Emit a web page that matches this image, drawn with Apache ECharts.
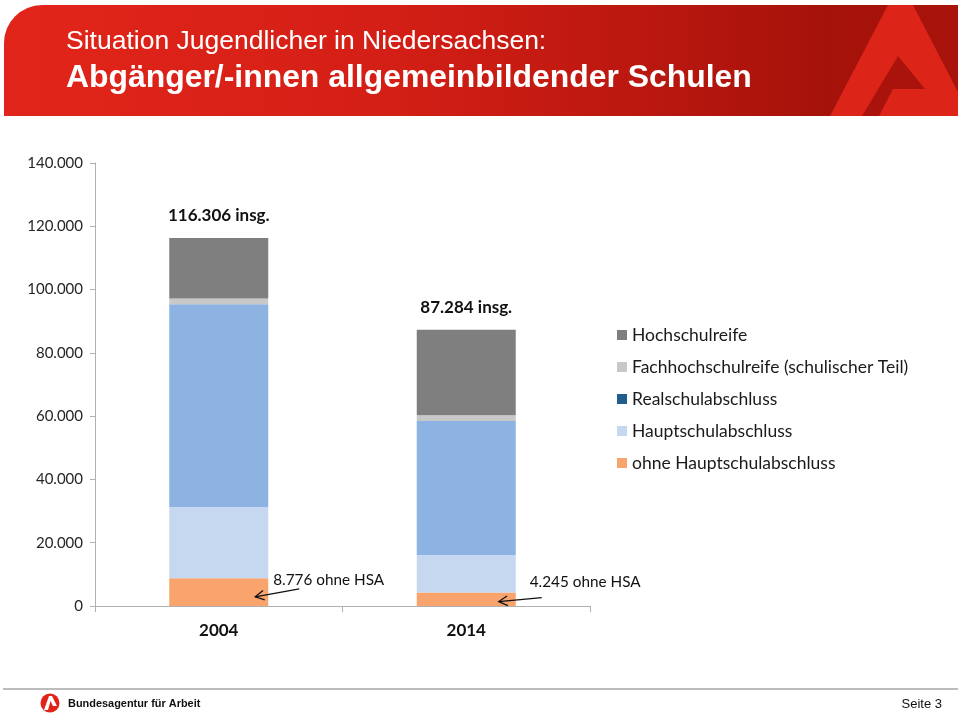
<!DOCTYPE html>
<html>
<head>
<meta charset="utf-8">
<script src="https://cdn.jsdelivr.net/npm/echarts/dist/echarts.min.js"></script>
<style>
html,body{margin:0;padding:0;background:#fff;}
#chart{width:960px;height:719px;}
</style>
</head>
<body>
<div id="chart"></div>
<script>
// ---- data ----
const categories = ['2004', '2014'];
const ohneHSA = [8776, 4245];
const hauptschul = [22500, 11850];
const realschul = [64100, 42400];
const fachhochschulreife = [1800, 1800];
const hochschulreife = [19130, 26989];
const totals = [116306, 87284];
const yTicks = [0, 20000, 40000, 60000, 80000, 100000, 120000, 140000];
const yTickLabels = ['0', '20.000', '40.000', '60.000', '80.000', '100.000', '120.000', '140.000'];
const seriesNames = ['ohne Hauptschulabschluss', 'Hauptschulabschluss', 'Realschulabschluss', 'Fachhochschulreife (schulischer Teil)', 'Hochschulreife'];
const legendOrder = ['Hochschulreife', 'Fachhochschulreife (schulischer Teil)', 'Realschulabschluss', 'Hauptschulabschluss', 'ohne Hauptschulabschluss'];
const annotationTexts = ['8.776 ohne HSA', '4.245 ohne HSA'];
const titleLine1 = 'Situation Jugendlicher in Niedersachsen:';
const titleLine2 = 'Abgänger/-innen allgemeinbildender Schulen';
const footerOrg = 'Bundesagentur für Arbeit';
const footerPage = 'Seite 3';

// ---- styles ----
const FONT = 'Lato, "Open Sans", sans-serif';
const colors = ['#f8a46c', '#c6d8f0', '#8db3e2', '#c8c8c8', '#7f7f7f'];
const legendColors = {'Realschulabschluss': '#215e8c'};

function fmt(n) { return String(n).replace(/\B(?=(\d{3})+(?!\d))/g, '.'); }

const chart = echarts.init(document.getElementById('chart'), null, {renderer: 'canvas'});
const seriesData = [ohneHSA, hauptschul, realschul, fachhochschulreife, hochschulreife];
const BAR_W = 99;

const series = seriesNames.map((name, i) => ({
  name: name,
  type: 'bar',
  stack: 'total',
  barWidth: BAR_W,
  data: seriesData[i],
  itemStyle: {color: colors[i]},
  emphasis: {disabled: true},
  label: i === seriesNames.length - 1 ? {
    show: true, position: 'top', distance: 14,
    formatter: p => fmt(totals[p.dataIndex]) + ' insg.',
    fontFamily: FONT, fontWeight: 'bold', fontSize: 17, color: '#111'
  } : {show: false}
}));

chart.setOption({
  animation: false,
  textStyle: {fontFamily: FONT},
  grid: {left: 95, right: 370, top: 163, bottom: 113, containLabel: false},
  xAxis: {
    type: 'category', data: categories,
    axisLine: {lineStyle: {color: '#b0b0b0', width: 1}},
    axisTick: {show: true, length: 6, lineStyle: {color: '#b0b0b0'}},
    axisLabel: {fontFamily: FONT, fontWeight: 'bold', fontSize: 17, color: '#111', margin: 16}
  },
  yAxis: {
    type: 'value', min: 0, max: 140000, interval: 20000,
    axisLine: {show: true, lineStyle: {color: '#b0b0b0', width: 1}},
    axisTick: {show: true, length: 5, lineStyle: {color: '#b0b0b0'}},
    splitLine: {show: false},
    axisLabel: {
      fontFamily: FONT, fontSize: 15, color: '#262626', margin: 12,
      formatter: v => { const k = yTicks.indexOf(v); return k >= 0 ? yTickLabels[k] : ''; }
    }
  },
  legend: {
    orient: 'vertical', left: 612, top: 320,
    itemWidth: 10, itemHeight: 10, itemGap: 12, icon: 'rect',
    textStyle: {fontFamily: FONT, fontSize: 17.5, color: '#1a1a1a', lineHeight: 20},
    data: legendOrder.map(n => ({name: n, itemStyle: {color: legendColors[n] || colors[seriesNames.indexOf(n)]}})),
    selectedMode: false
  },
  series: series
});

// ---- decorations & annotations ----
const graphics = [];
// header banner
graphics.push({
  type: 'rect', shape: {x: 4, y: 5, width: 954, height: 111, r: [38, 0, 0, 0]},
  style: {fill: new echarts.graphic.LinearGradient(0, 0, 1, 0, [
    {offset: 0, color: '#e2251a'}, {offset: 0.4, color: '#d41f16'},
    {offset: 0.72, color: '#b5160e'}, {offset: 0.86, color: '#a5120a'}, {offset: 1, color: '#a8130b'}
  ])}, silent: true, z: 1
});
graphics.push({
  type: 'polygon', shape: {points: [[830, 116], [888, 5], [913, 5], [958, 92], [958, 116]]},
  style: {fill: '#dc2418'}, silent: true, z: 2
});
graphics.push({
  type: 'polygon', shape: {points: [[898, 56], [925, 89], [893, 89], [879, 116], [862, 116]]},
  style: {fill: '#a9130b'}, silent: true, z: 3
});
graphics.push({
  type: 'text', x: 66, y: 42, silent: true, z: 5,
  style: {text: titleLine1, fill: '#fff', fontFamily: '"Liberation Sans", Arial, sans-serif', fontSize: 26.5, verticalAlign: 'middle'}
});
graphics.push({
  type: 'text', x: 66, y: 78, silent: true, z: 5,
  style: {text: titleLine2, fill: '#fff', fontFamily: '"Liberation Sans", Arial, sans-serif', fontWeight: 'bold', fontSize: 31.9, verticalAlign: 'middle'}
});
// footer
graphics.push({
  type: 'line', shape: {x1: 3, y1: 689, x2: 958, y2: 689},
  style: {stroke: '#a6a6a6', lineWidth: 1.5}, silent: true
});
graphics.push({type: 'circle', shape: {cx: 50, cy: 703, r: 9.5}, style: {fill: '#e2231a'}, silent: true});
graphics.push({
  type: 'polygon', shape: {points: [[44, 710], [49, 696], [52, 696], [57, 706], [53, 706], [50.5, 701], [48, 710]]},
  style: {fill: '#fff'}, silent: true, z: 3
});
graphics.push({
  type: 'text', x: 68, y: 704, scaleX: 0.95, silent: true,
  style: {text: footerOrg, fill: '#111', fontFamily: '"Liberation Sans", Arial, sans-serif', fontWeight: 'bold', fontSize: 11.5, verticalAlign: 'middle'}
});
graphics.push({
  type: 'text', x: 942, y: 704, silent: true,
  style: {text: footerPage, fill: '#111', fontFamily: '"Liberation Sans", Arial, sans-serif', fontSize: 13, verticalAlign: 'middle', align: 'right'}
});

// annotation arrows for "ohne HSA"
const annTextOffset = [5, 14];     // text x offset from bar right edge
const annTextValue = [8200, 7600]; // vertical anchor of text (value scale)
const arrowTipInset = [13, 17];
const arrowTail = [[44, -8], [43, -4]];
categories.forEach((c, i) => {
  const center = chart.convertToPixel({seriesIndex: 0}, [i, 0]);
  const barRight = center[0] + BAR_W / 2;
  const tipY = chart.convertToPixel({seriesIndex: 0}, [i, ohneHSA[i] * 0.33])[1];
  const tip = [barRight - arrowTipInset[i], tipY];
  const tail = [tip[0] + arrowTail[i][0], tip[1] + arrowTail[i][1]];
  const ang = Math.atan2(tail[1] - tip[1], tail[0] - tip[0]);
  const hl = 10, ha = 0.5;
  const h1 = [tip[0] + hl * Math.cos(ang + ha), tip[1] + hl * Math.sin(ang + ha)];
  const h2 = [tip[0] + hl * Math.cos(ang - ha), tip[1] + hl * Math.sin(ang - ha)];
  graphics.push({type: 'line', shape: {x1: tail[0], y1: tail[1], x2: tip[0], y2: tip[1]}, style: {stroke: '#111', lineWidth: 1.3}, silent: true, z: 10});
  graphics.push({type: 'polyline', shape: {points: [h1, tip, h2]}, style: {stroke: '#111', lineWidth: 1.3, fill: null}, silent: true, z: 10});
  const ty = chart.convertToPixel({seriesIndex: 0}, [i, annTextValue[i]])[1];
  graphics.push({
    type: 'text', x: barRight + annTextOffset[i], y: ty, silent: true, z: 10,
    style: {text: annotationTexts[i], fill: '#111', fontFamily: FONT, fontSize: 15.3, verticalAlign: 'middle'}
  });
});

chart.setOption({graphic: graphics});
</script>
</body>
</html>
